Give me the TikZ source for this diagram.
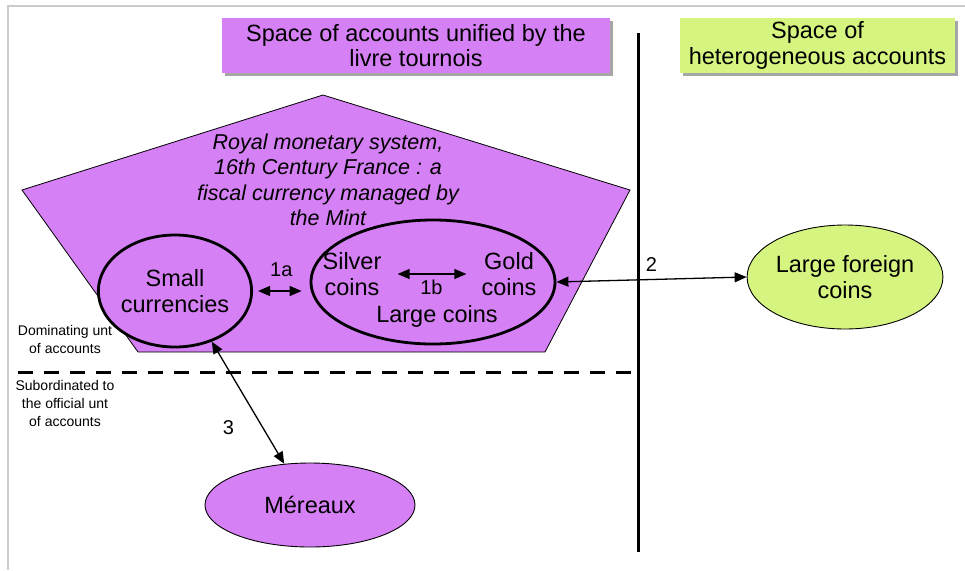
\documentclass[tikz,border=0pt]{standalone}
\usepackage{fontspec}
\setmainfont{Liberation Sans}
\usepackage{tikz}
\usetikzlibrary{shapes.geometric,arrows.meta,shadows}

\begin{document}
\begin{tikzpicture}[x=1pt,y=-1pt,
	every node/.style={font=\fontsize{23.5}{25.5}\selectfont,align=center,inner sep=0pt},
	titlebox/.style={rectangle,draw=none,drop shadow={shadow xshift=3pt,shadow yshift=-3pt,fill=black,opacity=0.35}},
	coinring/.style={ellipse,draw=black,line width=2.8pt,fill=cpurple},
	plainring/.style={ellipse,draw=black,line width=0.9pt},
	biarrow/.style={{Triangle[length=12pt,width=10pt]}-{Triangle[length=12pt,width=10pt]},line width=1.3pt},
	numlabel/.style={font=\fontsize{20}{22}\selectfont},
	sidelabel/.style={font=\fontsize{14}{18}\selectfont}]
				\definecolor{cpurple}{rgb}{0.84,0.50,0.96}
				\definecolor{cgreen}{rgb}{0.84,0.96,0.50}
				\definecolor{cframe}{rgb}{0.80,0.80,0.80}
				\useasboundingbox (0,0) rectangle (965,570);
				\draw[cframe,line width=2pt] (965,6) -- (8,6) -- (8,570);
				%
				\node[titlebox,fill=cpurple,minimum width=388pt,minimum height=55pt] (tleft) at (416,45.5) {Space of accounts unified by the\\livre tournois};
				\node[titlebox,fill=cgreen,minimum width=275pt,minimum height=55pt] (tright) at (817.5,45.5) {Space of\\heterogeneous accounts};
				%
				\filldraw[fill=cpurple,draw=black,line width=0.8pt] (323,95) -- (630,190) -- (545,352) -- (138,352) -- (22,190) -- cycle;
				\node[font=\itshape\fontsize{21.5}{25.5}\selectfont] (royal) at (328,180) {Royal monetary system,\\16th Century France : a\\fiscal currency managed by\\the Mint};
				%
				\node[coinring,minimum width=144pt,minimum height=112pt] (sc) at (175,291) {Small\\currencies};
				\node[coinring,minimum width=244pt,minimum height=124pt] (lc) at (433,282) {};
				\node (silver) at (352,274) {Silver\\coins};
				\node (gold) at (509,274) {Gold\\coins};
				\node (large) at (437,316) {Large coins};
				\node[plainring,fill=cgreen,minimum width=160pt,minimum height=104pt] (lfc) at (845,277) {Large foreign\\coins};
				\node[plainring,fill=cpurple,minimum width=210pt,minimum height=84pt] (mer) at (310,505) {Méreaux};
				%
				\node[sidelabel] (dom) at (65,339) {Dominating unt\\of accounts};
				\node[sidelabel] (sub) at (65,403) {Subordinated to\\the official unt\\of accounts};
				%
				\draw[line width=3pt,dash pattern=on 15pt off 11pt] (18,372) -- (632,372);
				\draw[line width=3pt] (638,33) -- (638,552);
				%
				\draw[biarrow,shorten <=5pt,shorten >=8pt] (sc.east) -- (sc.east -| lc.west) node[numlabel,midway,above=14pt] (n1a) {1a};
				\draw[biarrow,shorten <=16pt,shorten >=15pt] (silver.east) -- (gold.west) node[numlabel,midway,below=5pt] (n1b) {1b};
				\draw[biarrow] (lc.east) -- (lfc.west) node[numlabel,midway,above=7pt] (n2) {2};
				\draw[biarrow] (sc.-54) -- (mer.122) node[numlabel,pos=0.7,left=28pt] (n3) {3};
				%
			\end{tikzpicture}
\end{document}
